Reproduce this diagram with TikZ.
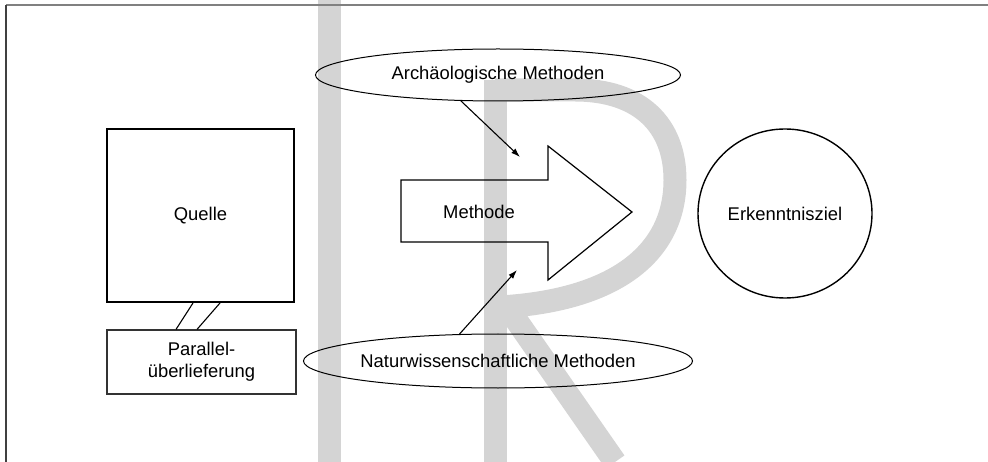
\documentclass[tikz,border=0pt]{standalone}
\usepackage{fontspec}
\setmainfont{Liberation Sans}
\usetikzlibrary{shapes.geometric, arrows.meta}

\tikzset{
  txt/.style={font=\fontsize{18.4}{22}\selectfont},
  kasten/.style={draw, txt, inner sep=0pt, align=center},
  methodik/.style={draw, ellipse, txt, line width=1pt, minimum width=365, minimum height=52, inner sep=0pt},
  zeichen/.style={line width=23pt, black!17},
  pfeil/.style={line width=1.1pt, -{Latex[length=9pt, width=6pt]}},
}

\begin{document}
\begin{tikzpicture}[x=1pt, y=-1pt]
  \useasboundingbox (0,0) rectangle (988,462);
  % Wasserzeichen
  \draw[zeichen] (329,0) -- (329,462);
  \draw[zeichen] (495,80) -- (495,462);
  \draw[zeichen] (495,90) -- (575,90) .. controls (640,90) and (675,125) .. (675,180) .. controls (675,250) and (620,300) .. (500,307);
  \draw[zeichen] (512,314) -- (615,462);
  % Rahmen
  \draw[gray, line width=2pt] (6,5) -- (988,5);
  \draw[black!75, line width=1.5pt] (6,5) -- (6,462);

  % Quelle und Parallelueberlieferung
  \node[kasten, line width=2pt, minimum width=187, minimum height=173] (quelle) at (200.5,215.5) {Quelle};
  \node[kasten, line width=1.2pt, draw=black!80, minimum width=189, minimum height=64] (parallel) at (201.5,362) {Parallel-\\überlieferung};
  \draw[line width=1.1pt] ([xshift=-7.5pt]quelle.south) -- ([xshift=-25.5pt]parallel.north);
  \draw[line width=1.1pt] ([xshift=19.5pt]quelle.south) -- ([xshift=-4.5pt]parallel.north);

  % Methode
  \draw[line width=1.2pt] (401,180) -- (548,180) -- (548,146) -- (632,212) -- (548,280) -- (548,242) -- (401,242) -- cycle;
  \node[txt] (methode) at (479,212) {Methode};

  \node[methodik] (archaeo) at (498,75) {Archäologische Methoden};
  \node[methodik, minimum height=54] (natur) at (498,361) {Naturwissenschaftliche Methoden};
  \coordinate (oben) at (520,157);
  \coordinate (unten) at (517,270);
  \draw[pfeil] (archaeo.215) -- (oben);
  \draw[pfeil] (natur.145) -- (unten);

  % Ziel
  \node[kasten, ellipse, line width=1.4pt, minimum width=174, minimum height=169] (ziel) at (785,213.5) {Erkenntnisziel};
\end{tikzpicture}
\end{document}
